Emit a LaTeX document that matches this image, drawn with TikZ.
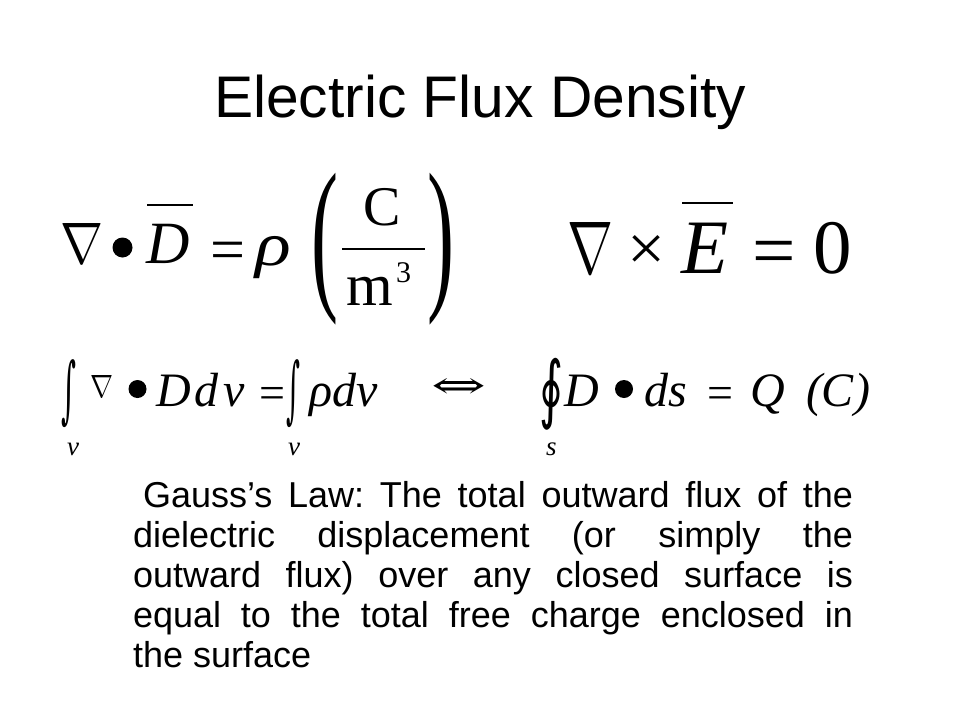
\documentclass[tikz,border=0pt]{standalone}
\usepackage{fontspec}
\usepackage{graphicx}
\setmainfont{Liberation Sans}
\newfontfamily\tnr{Liberation Serif}
\newfontfamily\dvs{DejaVu Serif}
\newfontfamily\dvsans{DejaVu Sans}
\newcommand{\fsz}[1]{\fontsize{#1}{#1}\selectfont}
\tikzset{
  glyph/.style={inner sep=0pt, outer sep=0pt},
  bw/.style={glyph, anchor=base west},
  nw/.style={glyph, anchor=north west},
  dotb/.style={circle, fill=black, inner sep=0pt, minimum size=#1},
  barline/.style={line width=2.5pt},
  para/.style={glyph, anchor=base west, font=\fsz{36}},
}
\begin{document}
\frenchspacing
\begin{tikzpicture}[x=1pt,y=-1pt]
\fill[white] (0,0) rectangle (960,720);
\useasboundingbox (0,0) rectangle (960,720);

% title
\node[glyph, anchor=base, font=\fsz{58.7}] (title) at (480,117) {Electric Flux Density};

% ---- row 1 left: div D = rho (C/m^3)
\node[nw] (nabA) at (60,223) {\resizebox*{43pt}{40pt}{$\nabla$}};
\node[dotb=20pt] (dotA) at (122.5,247.5) {};
\node[bw, font=\tnr\itshape\fsz{60}] (DA) at (146,263) {D};
\draw[barline] (147,205) -- (193,205);
\node[bw, font=\tnr\fsz{62}] (eqA) at (210,270) {=};
\node[bw, font=\tnr\itshape\fsz{62}] (rhoA) at (255,265) {\scalebox{1.2}[1]{ρ}};
\node[nw] (lpA) at (311,173) {\resizebox*{27pt}{152pt}{\tnr (}};
\node[bw, font=\tnr\fsz{56}] (CA) at (363,225) {C};
\draw[barline] (342,249) -- (425,249);
\node[bw, font=\tnr\fsz{60}] (mA) at (346,305) {m};
\node[bw, font=\tnr\fsz{30}] (threeA) at (396,282) {3};
\node[nw] (rpA) at (427,173) {\resizebox*{27pt}{152pt}{\tnr )}};

% ---- row 1 right: curl E = 0
\node[nw] (nabB) at (567,222) {\resizebox*{46pt}{51pt}{$\nabla$}};
\node[nw] (crossB) at (627,235) {\resizebox*{38pt}{35pt}{\tnr ×}};
\node[bw, font=\tnr\itshape\fsz{77}] (EB) at (681,273) {E};
\draw[barline] (682,203) -- (733,203);
\node[bw, font=\tnr\fsz{77}] (eqB) at (752,276) {=};
\node[bw, font=\tnr\fsz{77}] (zeroB) at (813,273) {0};

% ---- row 2
\node[nw] (intA) at (61,360) {\resizebox*{15pt}{68pt}{\dvs ∫}};
\node[bw, font=\tnr\itshape\fsz{27}] (subA) at (67,455) {v};
\node[nw] (nabC) at (90,375) {\resizebox*{23pt}{22pt}{$\nabla$}};
\node[dotb=18pt] (dotC) at (137.5,389) {};
\node[bw, font=\tnr\itshape\fsz{48}] (DC) at (156,406) {D};
\node[bw, font=\tnr\itshape\fsz{48}] (dC) at (194,406) {d};
\node[bw, font=\tnr\itshape\fsz{48}] (vC) at (223,406) {v};
\node[bw, font=\tnr\fsz{46}] (eqC) at (259,408) {=};
\node[nw] (intB) at (286,360) {\resizebox*{14pt}{68pt}{\dvs ∫}};
\node[bw, font=\tnr\itshape\fsz{27}] (subB) at (288,455) {v};
\node[bw, font=\tnr\itshape\fsz{48}] (rhoC) at (309,406) {ρdv};
\node[nw] (iff) at (431,378) {\resizebox*{55pt}{20pt}{\dvs ⇔}};
\node[nw] (oint) at (539,358) {\resizebox*{24pt}{72pt}{\dvsans ∮}};
\node[bw, font=\tnr\itshape\fsz{27}] (subC) at (546,455) {s};
\node[bw, font=\tnr\itshape\fsz{48}] (DD) at (564,406) {D};
\node[dotb=18pt] (dotD) at (624,389) {};
\node[bw, font=\tnr\itshape\fsz{48}] (dsD) at (644,406) {ds};
\node[bw, font=\tnr\fsz{46}] (eqD) at (707,408) {=};
\node[bw, font=\tnr\itshape\fsz{48}] (QD) at (750,406) {Q};
\node[bw, font=\tnr\itshape\fsz{48}] (CD) at (806,406) {(C)};

% ---- paragraph
\node[para] (p1) at (143,507) {\makebox[710pt][s]{Gauss’s Law: The total outward flux of the}};
\node[para] (p2) at (133,547) {\makebox[720pt][s]{dielectric displacement (or simply the}};
\node[para] (p3) at (133,587) {\makebox[720pt][s]{outward flux) over any closed surface is}};
\node[para] (p4) at (133,627) {\makebox[720pt][s]{equal to the total free charge enclosed in}};
\node[para] (p5) at (133,667) {the surface};
\end{tikzpicture}
\end{document}
